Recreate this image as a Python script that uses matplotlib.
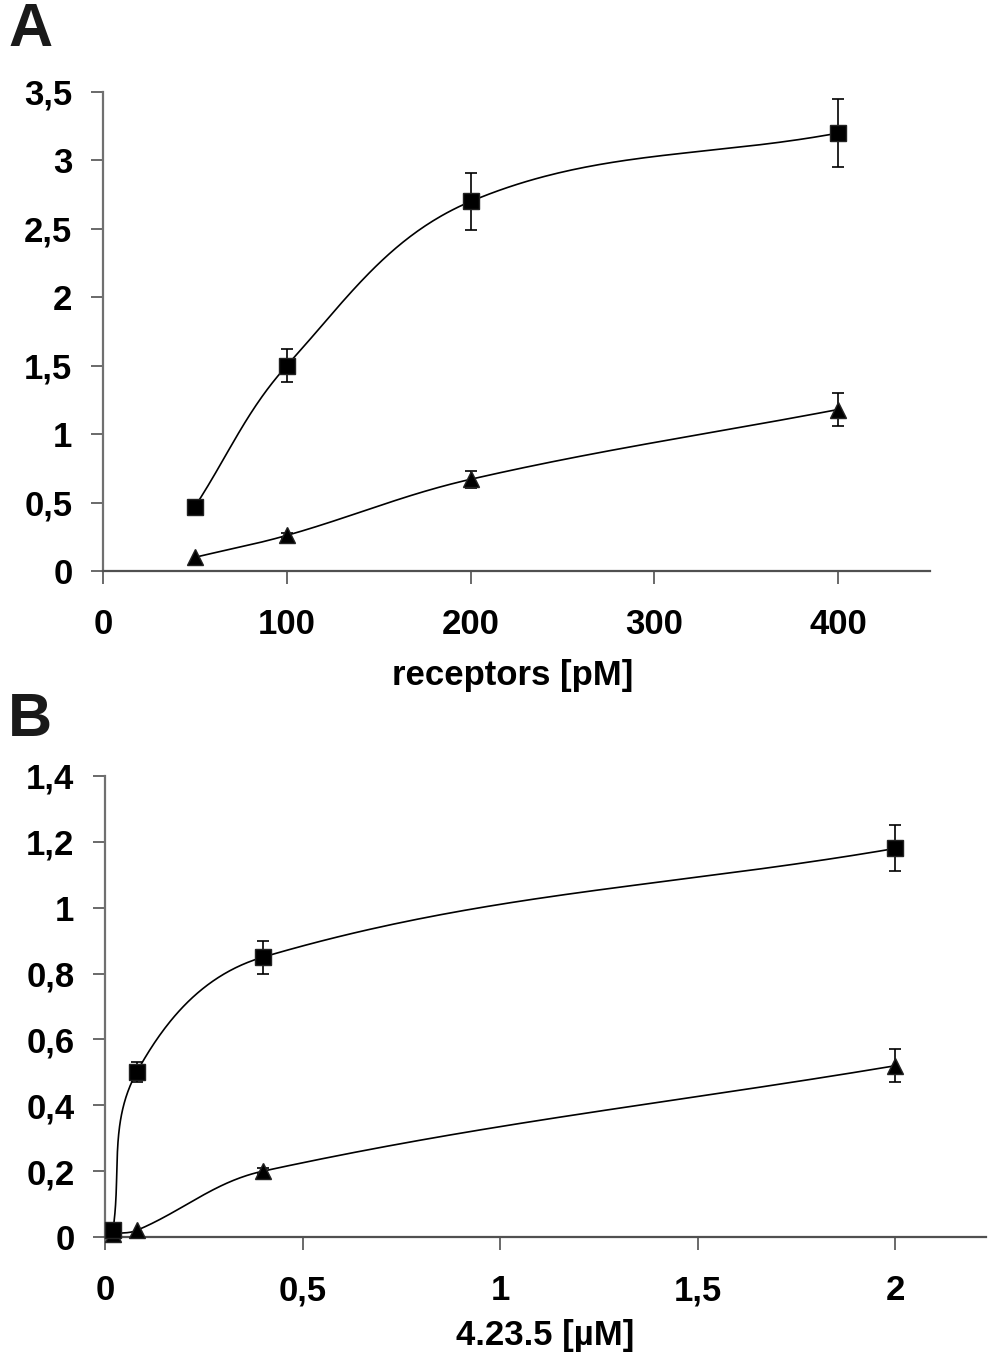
import numpy as np
import matplotlib
matplotlib.use("Agg")
import matplotlib.pyplot as plt

plt.rcParams['font.family'] = ['Liberation Sans', 'DejaVu Sans']
plt.rcParams['font.weight'] = 'bold'

# Panel A data
a_x = [50, 100, 200, 400]
a_sq = [0.47, 1.50, 2.70, 3.20]
a_sq_err = [0.0, 0.12, 0.21, 0.25]
a_tri = [0.10, 0.26, 0.67, 1.18]
a_tri_err = [0.0, 0.02, 0.06, 0.12]
a_xticks = [0, 100, 200, 300, 400]
a_yticks = [0, 0.5, 1, 1.5, 2, 2.5, 3, 3.5]
a_yticklabels = ['0', '0,5', '1', '1,5', '2', '2,5', '3', '3,5']

# Panel B data
b_x = [0.02, 0.08, 0.4, 2.0]
b_sq = [0.02, 0.50, 0.85, 1.18]
b_sq_err = [0.0, 0.03, 0.05, 0.07]
b_tri_x = [0.02, 0.08, 0.4, 2.0]
b_tri = [0.01, 0.02, 0.20, 0.52]
b_tri_err = [0.0, 0.0, 0.01, 0.05]
b_xticks = [0, 0.5, 1, 1.5, 2]
b_xticklabels = ['0', '0,5', '1', '1,5', '2']
b_yticks = [0, 0.2, 0.4, 0.6, 0.8, 1.0, 1.2, 1.4]
b_yticklabels = ['0', '0,2', '0,4', '0,6', '0,8', '1', '1,2', '1,4']

W, H = 989, 1356
fig = plt.figure(figsize=(W / 100, H / 100), dpi=100)

def rect(l, r, t, b):
    return [l / W, 1 - b / H, (r - l) / W, (b - t) / H]

axA = fig.add_axes(rect(103, 930, 92, 571))
axB = fig.add_axes(rect(105, 986, 776, 1237))

FS = 25


def smooth(ax, xs, ys, n=80, k=0.36):
    pts = ax.transData.transform(np.column_stack([xs, ys]))
    P = np.vstack([pts[0], pts, pts[-1]])
    out = []

    def unit(v):
        nv = np.hypot(*v)
        return v / nv if nv > 0 else v

    for i in range(1, len(P) - 2):
        p0, p1, p2, p3 = P[i - 1], P[i], P[i + 1], P[i + 2]
        L = np.hypot(*(p2 - p1))
        c1 = p1 + unit(p2 - p0) * L * k
        c2 = p2 - unit(p3 - p1) * L * k
        t = np.linspace(0, 1, n)[:, None]
        seg = ((1 - t) ** 3) * p1 + 3 * ((1 - t) ** 2) * t * c1 + 3 * (1 - t) * t ** 2 * c2 + t ** 3 * p2
        out.append(seg)
    out = np.vstack(out)
    d = ax.transData.inverted().transform(out)
    return d[:, 0], d[:, 1]


def style(ax, xlim, ylim, xticks, xticklabels, yticks, yticklabels):
    ax.set_xlim(*xlim)
    ax.set_ylim(*ylim)
    for s in ['top', 'right']:
        ax.spines[s].set_visible(False)
    ax.spines['left'].set_color('#707070')
    ax.spines['bottom'].set_color('#505050')
    ax.spines['left'].set_linewidth(1.6)
    ax.spines['bottom'].set_linewidth(1.6)
    ax.set_xticks(xticks)
    ax.set_xticklabels(xticklabels)
    ax.set_yticks(yticks)
    ax.set_yticklabels(yticklabels)
    ax.tick_params(axis='y', direction='out', length=9, width=1.2, color='#505050',
                   labelsize=FS, pad=13)
    ax.tick_params(axis='x', direction='out', length=9, width=1.2, color='#505050',
                   labelsize=FS, pad=18)
    for lab in ax.get_xticklabels() + ax.get_yticklabels():
        lab.set_fontweight('bold')


style(axA, (0, 450), (0, 3.5), a_xticks, [str(v) for v in a_xticks], a_yticks, a_yticklabels)
style(axB, (0, 2.23), (0, 1.4), b_xticks, b_xticklabels, b_yticks, b_yticklabels)


def draw(ax, xs, ys, errs, marker, ms):
    sx, sy = smooth(ax, xs, ys)
    ax.plot(sx, sy, color='black', lw=1.2, zorder=2)
    for x, y, e in zip(xs, ys, errs):
        if e > 0:
            ax.errorbar([x], [y], yerr=[e], fmt='none', ecolor='black', elinewidth=1.2,
                        capsize=4, capthick=1.2, zorder=3)
    ax.plot(xs, ys, linestyle='none', marker=marker, ms=ms, color='black',
            markeredgecolor='#222222', zorder=4, clip_on=False)


draw(axA, a_x, a_sq, a_sq_err, 's', 11.5)
draw(axA, a_x, a_tri, a_tri_err, '^', 12)
draw(axB, b_tri_x, b_tri, b_tri_err, '^', 12)
draw(axB, b_x, b_sq, b_sq_err, 's', 11.5)

axA.set_xlabel('receptors [pM]', fontsize=FS, fontweight='bold')
axA.xaxis.set_label_coords((513 - 103) / (930 - 103), -(675 - 571) / (571 - 92), transform=axA.transAxes)
axA.xaxis.label.set_va('center')
axB.set_xlabel('4.23.5 [µM]', fontsize=FS, fontweight='bold')
axB.xaxis.set_label_coords((545 - 105) / (986 - 105), -(1335 - 1237) / (1237 - 776), transform=axB.transAxes)
axB.xaxis.label.set_va('center')

fig.text(8 / W, 1 - 31 / H, 'A', fontsize=44, fontweight='heavy', va='center', ha='left', color='#1a1a1a')
fig.text(8 / W, 1 - 720 / H, 'B', fontsize=44, fontweight='heavy', va='center', ha='left', color='#1a1a1a')

fig.savefig('out.png', dpi=100)
